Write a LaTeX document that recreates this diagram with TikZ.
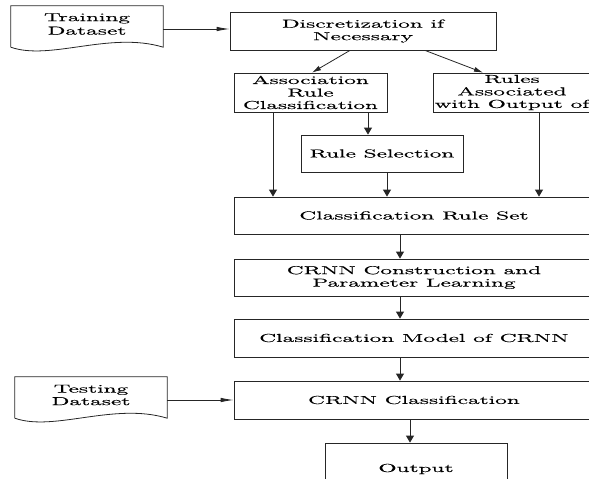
\documentclass[tikz,border=0pt]{standalone}
\usepackage{fontspec}
\newfontfamily\wf[FakeStretch=2.07,FakeBold=0.6]{Latin Modern Roman}
\usetikzlibrary{arrows.meta}
\begin{document}
\begin{tikzpicture}[x=1pt,y=-1pt,
  every node/.style={font=\wf\fontsize{11.5}{12.5}\selectfont, align=center, inner sep=0pt, text=black},
  box/.style={draw=black!85, line width=0.8pt, minimum width=#1},
  line/.style={draw=black!85, line width=0.8pt},
  varr/.style={line, -{Triangle[length=7pt,width=8pt]}},
  harr/.style={line, -{Latex[length=13pt,width=4.5pt]}},
  darr/.style={line, -{Latex[length=9pt,width=5pt]}},
  docnode/.style={minimum width=152pt, minimum height=41pt}
]
\useasboundingbox[clip] (0,0) rectangle (589,479);
% document shapes
\node[docnode] (train) at (87,26.5) {};
\node at (87,24) {Training\\[1pt]Dataset};
\draw[line] (train.south west) -- (train.north west) -- (train.north east) -- (train.south east)
  .. controls (110,31) and (50,61) .. (train.south west);
\node[docnode] (test) at (91,397.5) {};
\node at (91,395) {Testing\\Dataset};
\draw[line] (test.south west) -- (test.north west) -- (test.north east) -- (test.south east)
  .. controls (114,402) and (54,432) .. (test.south west);
% boxes
\node[box=266pt, minimum height=38pt] (disc) at (363,31) {Discretization if\\Necessary};
\node[box=153pt, minimum height=39pt] (assoc) at (310.5,92.5) {Association\\Rule\\Classification};
\node[box=159pt, minimum height=39pt] (rules) at (512.5,92.5) {};
\node at (512,92.5) {Rules\\Associated\\with Output of};
\node[box=162pt, minimum height=37pt] (rulesel) at (382,153.5) {Rule Selection};
\node[box=360pt, minimum height=37pt] (crs) at (414,215.5) {Classification Rule Set};
\node[box=360pt, minimum height=37pt] (crnn) at (414,277.5) {CRNN Construction and\\Parameter Learning};
\node[box=360pt, minimum height=38pt] (model) at (414,338) {Classification Model of CRNN};
\node[box=360pt, minimum height=38pt] (crnncls) at (414,400) {CRNN Classification};
\node[box=182pt, minimum height=52pt] (output) at (416,469) {Output};
% connectors
\draw[harr] (train.east |- 0,29) -- (disc.west |- 0,29);
\draw[harr] (test.east |- 0,400) -- (crnncls.west |- 0,400);
\draw[darr] (disc.south -| 350,0) -- (assoc.north -| 312,0);
\draw[darr] (disc.south -| 425,0) -- (rules.north -| 483,0);
\draw[varr] (assoc.south -| 368,0) -- (rulesel.north -| 368,0);
\draw[varr] (assoc.south -| 273,0) -- (crs.north -| 273,0);
\draw[varr] (rulesel.south -| 387,0) -- (crs.north -| 387,0);
\draw[varr] (rules.south -| 539,0) -- (crs.north -| 539,0);
\draw[varr] (crs.south -| 400,0) -- (crnn.north -| 400,0);
\draw[varr] (crnn.south -| 400,0) -- (model.north -| 400,0);
\draw[varr] (model.south -| 400,0) -- (crnncls.north -| 400,0);
\draw[varr] (crnncls.south -| 410,0) -- (output.north -| 410,0);
\end{tikzpicture}
\end{document}
